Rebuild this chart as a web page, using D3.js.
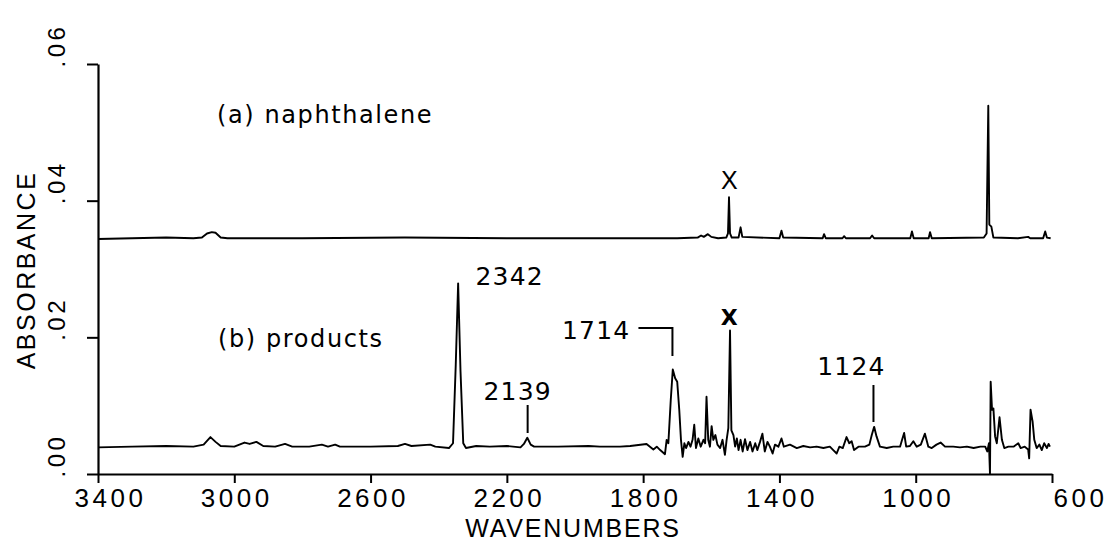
<!DOCTYPE html>
<html>
<head>
<meta charset="utf-8">
<script src="https://cdn.jsdelivr.net/npm/d3@7"></script>
<style>
  html, body { margin: 0; padding: 0; background: #fff; }
  svg { display: block; }
</style>
</head>
<body>
<svg id="chart" width="1109" height="544"></svg>
<script>
// ---------------- DATA ----------------
const xTicks = [3400, 3000, 2600, 2200, 1800, 1400, 1000, 600];
const yTicks = [0, 0.02, 0.04, 0.06];
const yTickLabels = [".00", ".02", ".04", ".06"];

// (a) naphthalene : [wavenumber, absorbance]
const naphthalene = [
  [3400,0.0344],[3300,0.0345],[3200,0.0346],[3120,0.0345],[3095,0.0346],[3080,0.0352],
  [3066,0.0354],[3055,0.0353],[3040,0.0346],[3020,0.0345],[2800,0.0345],[2500,0.0346],
  [2200,0.0345],[1900,0.0345],[1700,0.0345],[1640,0.0346],[1630,0.0349],[1622,0.0347],
  [1610,0.0351],[1600,0.0347],[1580,0.0345],[1556,0.0346],[1551,0.0352],[1548,0.0405],
  [1545,0.0352],[1540,0.0346],[1520,0.0346],[1514,0.0361],[1509,0.0347],[1400,0.0345],
  [1394,0.0356],[1389,0.0346],[1273,0.0345],[1269,0.0351],[1264,0.0345],[1215,0.0345],
  [1210,0.0348],[1205,0.0345],[1134,0.0345],[1128,0.0349],[1122,0.0345],[1016,0.0345],
  [1011,0.0355],[1006,0.0345],[962,0.0345],[958,0.0354],[953,0.0345],[800,0.0346],
  [792,0.0352],[787,0.0539],[784,0.0365],[778,0.0362],[772,0.0346],[700,0.0345],
  [670,0.0347],[664,0.0345],[626,0.0345],[620,0.0355],[615,0.0346],[604,0.0345]
];

// (b) products : [wavenumber, absorbance]
const products = [
  [3400,0.0039],[3300,0.0040],[3200,0.0041],[3120,0.0040],[3090,0.0043],[3070,0.0054],
  [3055,0.0047],[3040,0.0041],[3000,0.0040],[2970,0.0046],[2955,0.0044],[2935,0.0047],
  [2915,0.0041],[2880,0.0040],[2851,0.0044],[2830,0.0040],[2780,0.0040],[2743,0.0043],
  [2725,0.0040],[2704,0.0043],[2690,0.0040],[2600,0.0040],[2520,0.0041],[2499,0.0044],
  [2480,0.0041],[2425,0.0043],[2410,0.0040],[2370,0.0038],[2358,0.0045],[2350,0.0160],
  [2343,0.0279],[2336,0.0150],[2328,0.0045],[2320,0.0038],[2290,0.0041],[2250,0.0040],
  [2200,0.0041],[2160,0.0039],[2150,0.0044],[2140,0.0053],[2130,0.0043],[2120,0.0040],
  [2050,0.0040],[1960,0.0041],[1927,0.0040],[1868,0.0040],[1838,0.0041],[1790,0.0044],
  [1780,0.0040],[1770,0.0036],[1760,0.0040],[1750,0.0035],[1736,0.0029],[1731,0.0050],
  [1726,0.0045],[1719,0.0108],[1713,0.0153],[1706,0.0140],[1700,0.0135],[1694,0.0094],
  [1689,0.0050],[1684,0.0025],[1679,0.0045],[1674,0.0038],[1667,0.0047],[1661,0.0040],
  [1655,0.0050],[1650,0.0072],[1645,0.0038],[1638,0.0052],[1631,0.0040],[1623,0.0050],
  [1618,0.0045],[1614,0.0113],[1609,0.0050],[1604,0.0040],[1599,0.0070],[1594,0.0050],
  [1588,0.0057],[1582,0.0043],[1574,0.0038],[1567,0.0050],[1560,0.0028],[1555,0.0050],
  [1550,0.0067],[1545,0.0210],[1541,0.0064],[1535,0.0057],[1530,0.0040],[1525,0.0052],
  [1520,0.0035],[1514,0.0050],[1508,0.0033],[1501,0.0051],[1494,0.0035],[1486,0.0047],
  [1479,0.0033],[1471,0.0045],[1465,0.0035],[1457,0.0047],[1450,0.0059],[1443,0.0033],
  [1435,0.0047],[1428,0.0040],[1420,0.0030],[1413,0.0043],[1403,0.0040],[1394,0.0052],
  [1387,0.0040],[1369,0.0043],[1349,0.0038],[1330,0.0041],[1310,0.0039],[1291,0.0040],
  [1271,0.0038],[1252,0.0040],[1242,0.0035],[1232,0.0030],[1224,0.0040],[1214,0.0038],
  [1203,0.0054],[1195,0.0045],[1188,0.0048],[1181,0.0035],[1168,0.0040],[1149,0.0040],
  [1136,0.0043],[1129,0.0057],[1122,0.0069],[1115,0.0055],[1105,0.0040],[1085,0.0038],
  [1066,0.0040],[1046,0.0040],[1040,0.0050],[1034,0.0060],[1028,0.0040],[1017,0.0041],
  [1007,0.0048],[997,0.0040],[985,0.0043],[973,0.0059],[963,0.0040],[953,0.0038],
  [939,0.0043],[927,0.0046],[914,0.0040],[890,0.0040],[870,0.0039],[850,0.0040],
  [830,0.0038],[810,0.0040],[796,0.0040],[790,0.0033],[785,0.0045],[782,0.0000],
  [780,0.0135],[776,0.0094],[772,0.0096],[767,0.0055],[762,0.0045],[754,0.0083],
  [747,0.0050],[740,0.0038],[728,0.0040],[713,0.0040],[699,0.0045],[692,0.0038],
  [680,0.0040],[670,0.0036],[667,0.0023],[663,0.0094],[657,0.0077],[652,0.0050],
  [645,0.0038],[637,0.0043],[630,0.0035],[623,0.0045],[615,0.0038],[610,0.0044],
  [606,0.0040]
];

const traceLabels = ["(a) naphthalene", "(b) products"];
const peakWavenumbers = [2342, 2139, 1714, 1124];
const peakLabels = ["2342", "2139", "1714", "1124"];
const artifactWavenumber = 1547;
const artifactLabel = "X";

// ---------------- LAYOUT ----------------
const svg = d3.select("#chart");
svg.append("rect").attr("width", 1109).attr("height", 544).attr("fill", "#fff");

const x = d3.scaleLinear().domain([3400, 600]).range([98, 1052]);
const y = d3.scaleLinear().domain([0, 0.06]).range([474, 64]);

const plotFont = "'Liberation Sans', Arial, sans-serif";
const labelFont = "'DejaVu Sans', 'Noto Sans', sans-serif";

// X axis
const xAxis = svg.append("g")
  .attr("transform", `translate(0,${y(0)})`)
  .call(d3.axisBottom(x).tickValues(xTicks).tickSize(9).tickSizeOuter(0).tickFormat(d => String(d)));
xAxis.select(".domain").attr("stroke", "#000").attr("stroke-width", 2.2);
xAxis.selectAll(".tick line").attr("stroke", "#000").attr("stroke-width", 2);
xAxis.selectAll(".tick text")
  .attr("y", 33).attr("dy", 0)
  .attr("font-family", plotFont).attr("font-size", 26).attr("letter-spacing", 3.5)
  .attr("fill", "#000")
  .attr("dx", d => d === 3400 ? 12 : (d === 600 ? 28 : 2));

// Y axis
const yAxis = svg.append("g")
  .attr("transform", `translate(${x(3400)},0)`)
  .call(d3.axisLeft(y).tickValues(yTicks).tickSize(11).tickSizeOuter(0)
    .tickFormat((d, i) => yTickLabels[i]));
yAxis.select(".domain").attr("stroke", "#000").attr("stroke-width", 2.2);
yAxis.selectAll(".tick line").attr("stroke", "#000").attr("stroke-width", 2);
yAxis.selectAll(".tick text")
  .attr("transform", "rotate(-90)")
  .attr("text-anchor", "start")
  .attr("x", -3).attr("y", -33).attr("dy", 0)
  .attr("font-family", plotFont).attr("font-size", 24).attr("letter-spacing", 3.5)
  .attr("fill", "#000");

// Axis titles
svg.append("text")
  .attr("transform", "translate(35,270) rotate(-90)")
  .attr("text-anchor", "middle")
  .attr("font-family", plotFont).attr("font-size", 25).attr("letter-spacing", 2.5)
  .text("ABSORBANCE");
svg.append("text")
  .attr("x", 573).attr("y", 537)
  .attr("text-anchor", "middle")
  .attr("font-family", plotFont).attr("font-size", 25).attr("letter-spacing", 1.8)
  .text("WAVENUMBERS");

// Spectra
const line = d3.line().x(d => x(d[0])).y(d => y(d[1]));
[naphthalene, products].forEach(s => {
  svg.append("path").datum(s)
    .attr("d", line)
    .attr("fill", "none").attr("stroke", "#000")
    .attr("stroke-width", 1.9).attr("stroke-linejoin", "round");
});

// Trace labels
svg.append("text").attr("x", 217).attr("y", 123)
  .attr("font-family", labelFont).attr("font-size", 24).attr("letter-spacing", 1.6)
  .text(traceLabels[0]);
svg.append("text").attr("x", 218).attr("y", 347)
  .attr("font-family", labelFont).attr("font-size", 24).attr("letter-spacing", 1.6)
  .text(traceLabels[1]);

// Artifact markers
svg.append("text").attr("x", x(artifactWavenumber)).attr("y", 189)
  .attr("text-anchor", "middle")
  .attr("font-family", plotFont).attr("font-size", 25).attr("font-weight", 300)
  .text(artifactLabel);
svg.append("text").attr("x", x(artifactWavenumber)).attr("y", 325)
  .attr("text-anchor", "middle")
  .attr("font-family", labelFont).attr("font-size", 22).attr("font-weight", "bold")
  .text(artifactLabel);

// Peak annotations
const pk = i => x(peakWavenumbers[i]);
const peakText = (i, tx, ty, anchor) =>
  svg.append("text").attr("x", tx).attr("y", ty).attr("text-anchor", anchor)
    .attr("font-family", labelFont).attr("font-size", 25).attr("letter-spacing", 1.2)
    .text(peakLabels[i]);
const mark = (pts) => svg.append("path")
  .attr("d", d3.line()(pts)).attr("fill", "none").attr("stroke", "#000").attr("stroke-width", 2);

// 2342
peakText(0, pk(0) + 17, 285, "start");
// 2139
peakText(1, pk(1) - 10, 400, "middle");
mark([[pk(1), 405], [pk(1), 433]]);
// 1714
peakText(2, pk(2) - 42, 339, "end");
mark([[pk(2) - 34, 328], [pk(2), 328], [pk(2), 356]]);
// 1124
peakText(3, pk(3) - 22, 375, "middle");
mark([[pk(3), 385], [pk(3), 422]]);
</script>
</body>
</html>
